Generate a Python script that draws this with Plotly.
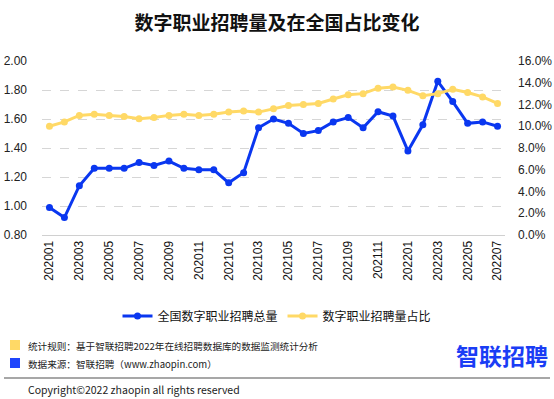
import plotly.graph_objects as go

months = ["202001","202002","202003","202004","202005","202006","202007","202008","202009","202010","202011","202012",
          "202101","202102","202103","202104","202105","202106","202107","202108","202109","202110","202111","202112",
          "202201","202202","202203","202204","202205","202206","202207"]
total = [0.99,0.92,1.14,1.26,1.26,1.26,1.30,1.28,1.31,1.26,1.25,1.25,
         1.16,1.23,1.54,1.60,1.57,1.50,1.52,1.58,1.61,1.54,1.65,1.62,
         1.38,1.56,1.86,1.72,1.57,1.58,1.55]
share = [10.0,10.4,11.0,11.1,11.0,10.9,10.7,10.8,11.0,11.1,11.0,11.1,
         11.3,11.4,11.3,11.6,11.9,12.0,12.1,12.5,12.9,13.0,13.5,13.6,
         13.3,12.8,13.0,13.4,13.1,12.7,12.1]
name_total = "全国数字职业招聘总量"
name_share = "数字职业招聘量占比"
title_text = "数字职业招聘量及在全国占比变化"
note_rule = "统计规则：基于智联招聘2022年在线招聘数据库的数据监测统计分析"
note_src = "数据来源：智联招聘（www.zhaopin.com）"
logo_text = "智联招聘"
copyright_text = "Copyright©2022 zhaopin all rights reserved"

W, H = 554, 399
L, R, T, B = 42, 49, 61, 164
pw, ph = W - L - R, H - T - B

def px(x):
    return (x - L) / pw

def py(y):
    return (H - B - y) / ph

BLUE = "#0a37f0"
YEL = "#ffd966"
FONT = "Noto Sans CJK SC, Noto Sans, sans-serif"

fig = go.Figure()
fig.add_trace(go.Scatter(x=months, y=total, name=name_total, mode="lines+markers",
                         line=dict(color=BLUE, width=3), marker=dict(size=7, color=BLUE)))
fig.add_trace(go.Scatter(x=months, y=share, name=name_share, mode="lines+markers", yaxis="y2",
                         line=dict(color=YEL, width=3), marker=dict(size=7, color=YEL)))

shapes = [
    dict(type="rect", xref="paper", yref="paper", x0=px(10), x1=px(20), y0=py(350), y1=py(340),
         fillcolor=YEL, line=dict(width=0)),
    dict(type="rect", xref="paper", yref="paper", x0=px(10), x1=px(20), y0=py(368), y1=py(358),
         fillcolor="#1f45fc", line=dict(width=0)),
    dict(type="line", xref="paper", yref="paper", x0=px(4), x1=px(550), y0=py(378), y1=py(378),
         line=dict(color="#8a8a8a", width=1.5)),
]
annotations = [
    dict(text=note_rule, xref="paper", yref="paper", x=px(26), y=py(346), xanchor="left", yanchor="middle",
         showarrow=False, font=dict(size=9.6, color="#222", family=FONT)),
    dict(text=note_src, xref="paper", yref="paper", x=px(26), y=py(364), xanchor="left", yanchor="middle",
         showarrow=False, font=dict(size=9.6, color="#222", family=FONT)),
    dict(text="<b>" + logo_text + "</b>", xref="paper", yref="paper", x=px(550), y=py(355), xanchor="right",
         yanchor="middle", showarrow=False, font=dict(size=23, color="#1a3df5", family=FONT)),
    dict(text=copyright_text, xref="paper", yref="paper", x=px(26), y=py(389), xanchor="left", yanchor="middle",
         showarrow=False, font=dict(size=10.5, color="#222", family=FONT)),
]

fig.update_layout(
    width=W, height=H,
    margin=dict(l=L, r=R, t=T, b=B, pad=0, autoexpand=False),
    paper_bgcolor="white", plot_bgcolor="white",
    font=dict(family=FONT, color="#222"),
    title=dict(text="<b>" + title_text + "</b>", x=0.5, xref="container", xanchor="center",
               y=1 - 23 / H, yref="container", yanchor="middle",
               font=dict(size=19, color="#111", family=FONT), automargin=False),
    xaxis=dict(type="category", range=[-0.5, len(months) - 0.5], tickangle=-90,
               tickmode="array", tickvals=months[::2], ticktext=months[::2],
               showgrid=False, showline=True, linecolor="#d0d0d0", linewidth=1, automargin=False,
               ticks="", tickfont=dict(size=12, color="#111", family="Liberation Sans, Arial"),
               fixedrange=True),
    yaxis=dict(range=[0.8, 2.0], dtick=0.2, tickformat=".2f", showgrid=True, automargin=False,
               gridcolor="#d6d6d6", griddash="dash", gridwidth=1, zeroline=False,
               tickfont=dict(size=12, color="#222", family="Liberation Sans, Arial"), ticks="",
               ticklabelstandoff=14),
    yaxis2=dict(range=[0, 16], dtick=2, tickformat=".1f", ticksuffix="%", overlaying="y", side="right",
                showgrid=False, zeroline=False, ticks="", ticklabelstandoff=12, automargin=False,
                tickfont=dict(size=12, color="#222", family="Liberation Sans, Arial")),
    legend=dict(orientation="h", xref="container", yref="container", x=0.5, xanchor="center",
                y=1 - 316 / H, yanchor="middle", font=dict(size=12, color="#111", family=FONT),
                itemwidth=30, tracegroupgap=0),
    showlegend=True,
    shapes=shapes,
    annotations=annotations,
)

fig.write_html("out.html", config={"displayModeBar": False},
               post_script="document.body.style.margin='0';document.body.style.overflow='hidden';")
